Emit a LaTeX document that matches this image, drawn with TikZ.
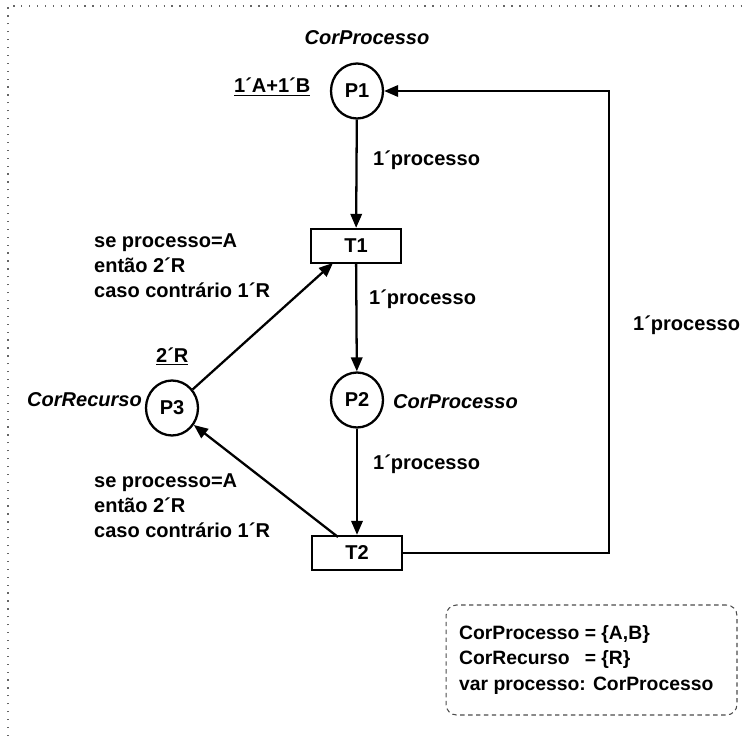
\documentclass[tikz,border=0pt]{standalone}
\usepackage{fontspec}
\setmainfont{Liberation Sans}
\usetikzlibrary{shapes.geometric,arrows.meta}

\begin{document}
\begin{tikzpicture}[x=0.02cm, y=-0.02cm, line width=1.3pt,
    font=\fontsize{11.4}{14.2}\selectfont\bfseries,
    >={Triangle[length=8pt, width=6.5pt]},
    place/.style={draw, ellipse, minimum width=1.04cm, minimum height=1.1cm, inner sep=0pt},
    trans/.style={draw, rectangle, minimum width=1.8cm, minimum height=0.68cm, inner sep=0pt},
    cond/.style={anchor=north west, align=left, inner sep=0pt}]
      \useasboundingbox (0,0) rectangle (746,736);
      \draw[line width=0.7pt, black!60, dash pattern=on 0.7pt off 3.8pt] (8,736) -- (8,6) -- (746,6);
      % places and transitions
      \node[place] (p1) at (357,91) {P1};
      \node[place] (p2) at (357,400) {P2};
      \node[place] (p3) at (172,408) {P3};
      \node[trans] (t1) at (356,246) {T1};
      \node[trans] (t2) at (357,553) {T2};
      \coordinate (t1in) at (333,263);
      \coordinate (t2out) at (338,537);
      \coordinate (back) at (609,553);
      % arcs
      \draw[->] (p1) -- (t1);
      \draw[->] (t1) -- (p2);
      \draw[->] (p2) -- (t2);
      \draw[->] (p3) -- (t1in);
      \draw[->] (t2out) -- (p3);
      \draw[->] (t2) -- (back) |- (p1);
      % inscriptions
      \node[anchor=base] (cp1) at (367,45) {\itshape CorProcesso};
      \node[anchor=base west, inner sep=0pt] (m1) at (233,93) {\underline{1´A+1´B}};
      \node[anchor=west, inner sep=0pt] (e1) at (372,160) {1´processo};
      \node[anchor=west, inner sep=0pt] (e2) at (368,299) {1´processo};
      \node[anchor=west, inner sep=0pt] (e3) at (372,464) {1´processo};
      \node[anchor=west, inner sep=0pt] (e4) at (632,325) {1´processo};
      \node[anchor=west, inner sep=0pt] (cp2) at (392,402) {\itshape CorProcesso};
      \node[anchor=east, inner sep=0pt] (cr3) at (143,400) {\itshape CorRecurso};
      \node[anchor=base west, inner sep=0pt] (m3) at (155,362) {\underline{2´R}};
      \node[cond] (g1) at (93,233) {se processo=A\\então 2´R\\caso contrário 1´R};
      \node[cond] (g2) at (93,473) {se processo=A\\então 2´R\\caso contrário 1´R};
      % declarations
      \node[draw, line width=0.6pt, black!70, dash pattern=on 2.5pt off 2pt, rounded corners=6pt,
            minimum width=5.82cm, minimum height=2.2cm, inner sep=0pt] (decl) at (591.5,660) {};
      \node[cond, font=\fontsize{11}{14.5}\selectfont\bfseries] (dtext) at (458,624)
            {CorProcesso = \{A,B\}\\CorRecurso\hspace{0.5em} = \{R\}\\var processo: CorProcesso};
\end{tikzpicture}
\end{document}
